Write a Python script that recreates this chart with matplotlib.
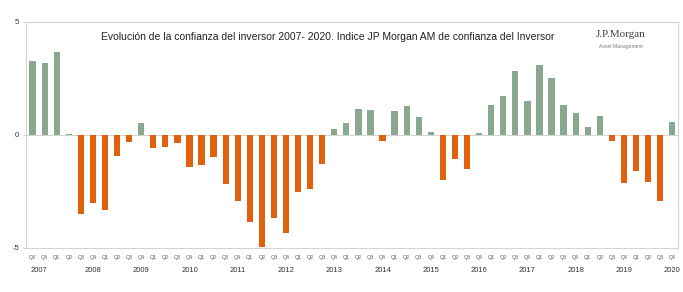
"""
Evolucion de la confianza del inversor 2007-2020 (indice JP Morgan AM).
"""

import numpy as np
import matplotlib
matplotlib.use('Agg')
import matplotlib.pyplot as plt

plt.rcParams['font.family'] = ['Liberation Sans', 'DejaVu Sans']

# quarterly index values, 2007 Q3 .. 2020 Q4
years = ['2007', '2008', '2009', '2010', '2011', '2012', '2013',
         '2014', '2015', '2016', '2017', '2018', '2019', '2020']
quarters_per_year = [2, 4, 4, 4, 4, 4, 4, 4, 4, 4, 4, 4, 4, 4]
quarter_labels = ['Q3', 'Q4'] + ['Q1', 'Q2', 'Q3', 'Q4'] * 13
values = [3.29, 3.17, 3.66, 0.05,
          -3.49, -3.00, -3.33, -0.92,
          -0.33, 0.51, -0.58, -0.52,
          -0.34, -1.40, -1.35, -0.99,
          -2.18, -2.92, -3.85, -4.96,
          -3.66, -4.36, -2.53, -2.40,
          -1.27, 0.27, 0.52, 1.16,
          1.10, -0.28, 1.07, 1.28,
          0.79, 0.15, -2.01, -1.08,
          -1.50, 0.07, 1.32, 1.73,
          2.83, 1.48, 3.11, 2.51,
          1.32, 0.96, 0.33, 0.83,
          -0.27, -2.12, -1.60, -2.07,
          -2.92, 0.55]

GREEN = '#8aa78f'
ORANGE = '#e0620f'
GRID = '#d4d4d4'

x = np.arange(len(values))
vals = np.array(values)
colors = [GREEN if v >= 0 else ORANGE for v in vals]

fig = plt.figure(figsize=(6.83, 2.92), dpi=100)
ax = fig.add_axes([0.038, 0.151, 0.955, 0.774])

ax.bar(x, vals, width=0.52, color=colors, zorder=2)
ax.axhline(0, color=GRID, lw=0.8, zorder=1)

ax.set_xlim(-0.55, len(values) - 0.5)
ax.set_ylim(-5, 5)
ax.set_yticks([-5, 0, 5])
ax.set_yticklabels(['-5', '0', '5'], fontsize=5.5, color='#333333')
ax.tick_params(axis='y', length=2, color=GRID, pad=3)

# quarter labels
ax.set_xticks(x)
ax.set_xticklabels(quarter_labels, fontsize=3.8, color='#555555')
ax.tick_params(axis='x', length=0, pad=5)

# year labels below the quarter row
start = 0
for yr, n in zip(years, quarters_per_year):
    idx = np.arange(start, start + n)
    pos = idx.mean() if n < 4 else idx.mean() + 1.5
    ax.text(pos, -0.085, yr, transform=ax.get_xaxis_transform(),
            ha='center', va='top', fontsize=5.5, color='#333333')
    start += n

for s in ax.spines.values():
    s.set_color(GRID)
    s.set_linewidth(0.8)

ax.text(0.463, 0.935, 'Evolución de la confianza del inversor 2007- 2020. '
        'Indice JP Morgan AM de confianza del Inversor',
        transform=ax.transAxes, ha='center', va='center',
        fontsize=7.5, color='#222222')

# logo
ax.text(0.912, 0.945, 'J.P.Morgan', transform=ax.transAxes, ha='center',
        va='center', fontsize=8, family='Liberation Serif', color='#444444')
ax.text(0.912, 0.89, 'Asset Management', transform=ax.transAxes, ha='center',
        va='center', fontsize=3.6, color='#777777')

fig.savefig('out.png', dpi=100)
plt.close(fig)
